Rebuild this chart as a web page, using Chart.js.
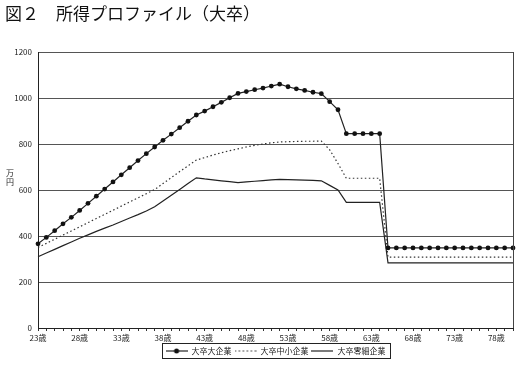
<!DOCTYPE html>
<html>
<head>
<meta charset="utf-8">
<script src="https://cdn.jsdelivr.net/npm/chart.js@4"></script>
<style>
  body { margin: 0; background: #fff; }
  #wrap { position: relative; width: 517px; height: 367px; }
  #yunit { position: absolute; left: 5px; top: 168px; width: 10px; text-align: center;
           font: 8px/9px "Noto Sans CJK JP"; color: #222; }
</style>
</head>
<body>
<div id="wrap">
  <canvas id="myChart"></canvas>
  <div id="yunit">万<br>円</div>
</div>
<script>
// 年齢（歳）
var ages = [23, 24, 25, 26, 27, 28, 29, 30, 31, 32, 33, 34, 35, 36, 37, 38, 39, 40, 41, 42,
  43, 44, 45, 46, 47, 48, 49, 50, 51, 52, 53, 54, 55, 56, 57, 58, 59, 60, 61, 62,
  63, 64, 65, 66, 67, 68, 69, 70, 71, 72, 73, 74, 75, 76, 77, 78, 79, 80];

// 万円
var daiKigyo = [366, 394, 423, 453, 481, 511, 542, 573, 604, 635, 666, 697, 728, 758, 787, 816, 843, 871, 899, 926,
  943, 962, 981, 1001, 1020, 1028, 1036, 1043, 1052, 1060, 1049, 1040, 1033, 1025, 1019, 984, 949, 845, 845, 845,
  845, 845, 348, 348, 348, 348, 348, 348, 348, 348, 348, 348, 348, 348, 348, 348, 348, 348];
var chushoKigyo = [350, 368, 386, 404, 422, 440, 458, 476, 494, 512, 530, 548, 566, 584, 602, 628, 654, 680, 705, 730,
  741, 752, 762, 771, 779, 787, 794, 800, 805, 809, 810, 811, 812, 812, 813, 775, 715, 651, 651, 651,
  651, 651, 308, 308, 308, 308, 308, 308, 308, 308, 308, 308, 308, 308, 308, 308, 308, 308];
var reisaiKigyo = [310, 326, 342, 358, 374, 390, 405, 420, 434, 448, 463, 478, 493, 509, 527, 552, 577, 602, 628, 653,
  648, 644, 640, 636, 632, 635, 638, 641, 644, 646, 645, 644, 643, 642, 640, 620, 600, 546, 546, 546,
  546, 546, 283, 283, 283, 283, 283, 283, 283, 283, 283, 283, 283, 283, 283, 283, 283, 283];

var seriesNames = ['大卒大企業', '大卒中小企業', '大卒零細企業'];
var yTicks = [0, 200, 400, 600, 800, 1000, 1200];

const labels = ages.map(a => a + '歳');
const fontName = '"Noto Sans CJK JP", "Noto Sans", sans-serif';

// legend samples
function sample(kind) {
  const c = document.createElement('canvas');
  c.width = 22; c.height = 8;
  const g = c.getContext('2d');
  g.strokeStyle = '#222';
  g.lineWidth = 1.2;
  if (kind == 'dot') g.setLineDash([1.5, 2.5]);
  g.beginPath(); g.moveTo(0, 4); g.lineTo(22, 4); g.stroke();
  if (kind == 'marker') {
    g.fillStyle = '#111';
    g.beginPath(); g.arc(11, 4, 2.5, 0, Math.PI * 2); g.fill();
  }
  return c;
}
const samples = [sample('marker'), sample('dot'), sample('solid')];

const framePlugin = {
  id: 'frame',
  afterLayout(chart) {
    // center the legend under the plot area instead of the whole canvas
    const lg = chart.legend;
    if (lg) lg.left += (chart.chartArea.left + chart.chartArea.right) - (lg.left + lg.right);
  },
  afterDraw(chart) {
    const ctx = chart.ctx, a = chart.chartArea;
    ctx.save();
    ctx.strokeStyle = '#444';
    ctx.lineWidth = 1;
    ctx.beginPath();
    ctx.moveTo(Math.round(a.right) + 0.5, a.top);
    ctx.lineTo(Math.round(a.right) + 0.5, a.bottom);
    ctx.stroke();
    // legend box
    const hb = chart.legend.legendHitBoxes;
    if (hb && hb.length) {
      let l = Infinity, r = -Infinity, t = Infinity, b = -Infinity;
      hb.forEach(h => {
        l = Math.min(l, h.left); r = Math.max(r, h.left + h.width);
        t = Math.min(t, h.top); b = Math.max(b, h.top + h.height);
      });
      ctx.strokeStyle = '#222';
      ctx.strokeRect(Math.round(l - 4) + 0.5, Math.round(t - 4) + 0.5, Math.round(r - l + 8), Math.round(b - t + 7));
    }
    ctx.restore();
  }
};

var ctx = document.getElementById('myChart');
var myChart = new Chart(ctx, {
  type: 'line',
  data: {
    labels: labels,
    datasets: [{
      label: seriesNames[0],
      data: daiKigyo,
      borderColor: '#222',
      borderWidth: 1.2,
      pointRadius: 2.4,
      pointBackgroundColor: '#111',
      pointBorderWidth: 0,
      pointStyle: 'circle',
      tension: 0
    }, {
      label: seriesNames[1],
      data: chushoKigyo,
      borderColor: '#333',
      borderWidth: 1.2,
      borderDash: [1.5, 2.5],
      pointRadius: 0,
      tension: 0
    }, {
      label: seriesNames[2],
      data: reisaiKigyo,
      borderColor: '#222',
      borderWidth: 1.2,
      pointRadius: 0,
      tension: 0
    }]
  },
  options: {
    responsive: true,
    maintainAspectRatio: false,
    animation: false,
    devicePixelRatio: 1,
    layout: {
      padding: { left: 5, right: 3, top: 0, bottom: 2 }
    },
    scales: {
      x: {
        afterFit(scale) { scale.height = 16; },
        border: { color: '#222', width: 1 },
        grid: { drawOnChartArea: false, drawTicks: true, tickLength: 3, color: '#333' },
        ticks: {
          autoSkip: false,
          maxRotation: 0,
          padding: 2,
          color: '#222',
          font: { size: 8, family: fontName },
          callback: function (v, i) { return (ages[i] - 23) % 5 === 0 ? labels[i] : ''; }
        }
      },
      y: {
        min: 0,
        max: 1200,
        afterFit(scale) { scale.width = 33; },
        afterBuildTicks(scale) { scale.ticks = yTicks.map(v => ({ value: v })); },
        border: { color: '#222', width: 1 },
        grid: { color: '#555', lineWidth: 1, drawTicks: false },
        ticks: {
          padding: 6,
          color: '#222',
          font: { size: 8, family: fontName },
          callback: v => String(v)
        }
      }
    },
    plugins: {
      title: {
        display: true,
        text: '図２　所得プロファイル（大卒）',
        align: 'start',
        color: '#111',
        font: { size: 17, weight: 'normal', family: fontName },
        padding: { top: 3, bottom: 28.6 }
      },
      legend: {
        display: true,
        position: 'bottom',
        labels: {
          usePointStyle: true,
          pointStyleWidth: 22,
          padding: 3,
          color: '#222',
          font: { size: 8, family: fontName },
          generateLabels(chart) {
            return chart.data.datasets.map((d, i) => ({
              text: d.label,
              pointStyle: samples[i],
              datasetIndex: i,
              fontColor: '#222',
              lineWidth: 0,
              strokeStyle: 'rgba(0,0,0,0)',
              fillStyle: 'rgba(0,0,0,0)'
            }));
          }
        }
      },
      tooltip: { enabled: false }
    }
  },
  plugins: [framePlugin]
});
</script>
</body>
</html>
